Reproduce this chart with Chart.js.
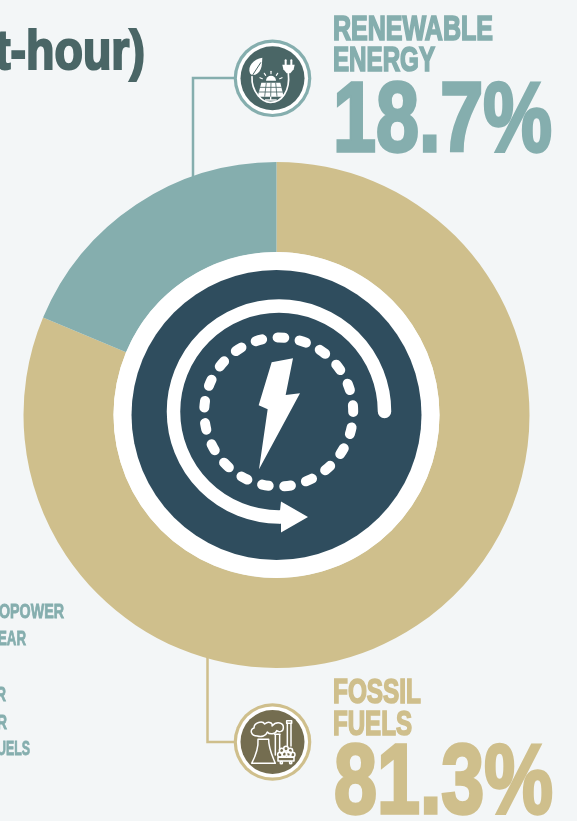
<!DOCTYPE html>
<html><head><meta charset="utf-8">
<script src="https://cdn.jsdelivr.net/npm/chart.js@4/dist/chart.umd.min.js"></script>
<style>
html,body{margin:0;padding:0;background:#F3F6F7;width:577px;height:821px;overflow:hidden}
#wrap{position:relative;width:577px;height:821px;overflow:hidden}
canvas{position:absolute;left:0;top:0}
.t{position:absolute;white-space:nowrap;line-height:1;font-family:"Liberation Sans Narrow","Liberation Sans",sans-serif;font-weight:700;transform-origin:0 0;paint-order:stroke fill}
</style></head><body>
<div id="wrap"><canvas id="c" width="577" height="821"></canvas></div>
<script>
const categories=['Fossil fuels','Renewable energy'];
const shares=[81.3,18.7];
const sliceColors=['#CFBF8C','#85AEAE'];
const textItems=[
 ['t-hour)',-5,69.5,55,150,'#4A6666',0.04],
 ['RENEWABLE',333,40,34.5,160,'#85AEAE',0.05],
 ['ENERGY',333,71.5,34.5,102,'#85AEAE',0.05],
 [shares[1]+'%',333,150.5,99,219,'#85AEAE',0.035],
 ['FOSSIL',333,703.5,34.5,88,'#CFBF8C',0.05],
 ['FUELS',333,735.5,34.5,79,'#CFBF8C',0.05],
 [shares[0]+'%',334,812.5,99,219,'#CFBF8C',0.035],
 ['OPOWER',-1,618.5,19.5,65,'#85AEAE',0.04],
 ['EAR',-2,645.5,19.5,28,'#85AEAE',0.04],
 ['R',-4,701.5,19.5,10,'#85AEAE',0.04],
 ['R',-3,729.5,19.5,10,'#85AEAE',0.04],
 ['UELS',-3,755.5,19.5,33,'#85AEAE',0.04]
];
const wrap=document.getElementById('wrap');
textItems.forEach(function(it){
  const s=document.createElement('span');s.className='t';s.textContent=it[0];
  s.style.left=it[1]+'px';s.style.top=(it[2]-0.8465*it[3])+'px';s.style.fontSize=it[3]+'px';s.style.color=it[5];
  s.style.webkitTextStroke=(it[3]*it[6])+'px '+it[5];
  wrap.appendChild(s);
  s.style.transform='scaleX('+(it[4]/s.getBoundingClientRect().width)+')';
});
function poly(c,p,fill){c.beginPath();p.forEach((q,i)=>i?c.lineTo(q[0],q[1]):c.moveTo(q[0],q[1]));c.closePath();fill?c.fill():c.stroke();}
function line(c,a,b,d,e){c.beginPath();c.moveTo(a,b);c.lineTo(d,e);c.stroke();}
function disc(c,x,y,r,col){c.fillStyle=col;c.beginPath();c.arc(x,y,r,0,Math.PI*2);c.fill();}
function centerArt(c,cx,cy,ri){
  disc(c,cx,cy,ri,'#FFFFFF');
  disc(c,cx,cy,145,'#2F4D5E');
  const ax=cx+2.5,ay=cy-3.5;
  c.strokeStyle='#FFF';c.fillStyle='#FFF';
  c.lineWidth=13.5;c.lineCap='round';
  c.beginPath();c.arc(ax,ay,105.5,0,Math.PI/2,true);c.stroke();
  c.lineCap='butt';
  poly(c,[[ax+1,ay+99],[ax+2,ay+90],[ax+29,ay+105.5],[ax+2,ay+121],[ax+2,ay+112],[ax,ay+112],[ax,ay+99]],true);
  c.lineCap='round';c.lineWidth=10;
  for(let i=0;i<21;i++){
    const a=-Math.PI/2+(i+0.1)*Math.PI*2/21;
    c.beginPath();c.arc(ax-0.3,ay+0.5,74.5,a-0.045,a+0.045);c.stroke();
  }
  const o=(x,y)=>[120+x/3,260+y/3];
  poly(c,[o(455,307),o(519,295),o(497,405),o(540,400),o(417,628),o(443,448),o(416,436)],true);
}
function ring(c,x,y,col,dark){
  disc(c,x,y,38.8,col);disc(c,x,y,35.6,'#FFFFFF');disc(c,x,y,32,dark);
}
function renewableIcon(c){
  c.save();c.translate(230,36);c.scale(1/3,1/3);
  c.strokeStyle='#FFF';c.fillStyle='#FFF';c.lineWidth=5;c.lineCap='round';c.lineJoin='round';
  c.beginPath();c.moveTo(97,65);c.bezierCurveTo(70,70,52,90,60,112);c.bezierCurveTo(65,122,85,118,92,100);c.bezierCurveTo(97,88,96,75,97,65);c.fill();
  c.beginPath();c.moveTo(92,80);c.lineTo(66,120);c.strokeStyle='#4A6666';c.lineWidth=3;c.stroke();
  c.strokeStyle='#FFF';c.lineWidth=5;
  c.beginPath();c.moveTo(66,122);c.bezierCurveTo(64,165,95,200,122,199);c.bezierCurveTo(155,199,181,165,175,112);c.stroke();
  c.lineWidth=6;line(c,167,73,167,86);line(c,184,73,184,86);
  poly(c,[[157,86],[194,86],[191,100],[181,112],[170,112],[160,100]],true);
  c.beginPath();c.arc(123,134,15,Math.PI,0);c.closePath();c.fill();
  c.lineWidth=3.5;
  [[123,106,123,113],[103,112,107,118],[143,112,139,118],[90,125,97,128],[156,125,149,128]].forEach(r=>line(c,r[0],r[1],r[2],r[3]));
  poly(c,[[94,140],[151,140],[161,182],[83,182]],true);
  c.strokeStyle='#4A6666';c.lineWidth=2.5;c.lineCap='butt';
  line(c,90,154,155,154);line(c,87,168,158,168);
  line(c,109,140,104,182);line(c,123,140,122,182);line(c,137,140,141,182);
  c.strokeStyle='#FFF';c.lineWidth=4;line(c,122,182,122,192);line(c,105,192,140,192);
  c.restore();
}
function fossilIcon(c){
  c.save();c.translate(230,700);c.scale(1/3,1/3);
  c.strokeStyle='#FFF';c.lineWidth=4.5;c.lineCap='round';c.lineJoin='round';
  c.beginPath();c.moveTo(84,118);c.lineTo(116,118);c.bezierCurveTo(115,145,128,170,136,190);c.lineTo(65,190);c.bezierCurveTo(78,165,86,145,84,118);c.stroke();
  c.beginPath();c.moveTo(82,108);c.bezierCurveTo(62,108,58,88,72,84);c.bezierCurveTo(72,66,98,62,104,72);c.bezierCurveTo(118,60,130,72,126,78);c.bezierCurveTo(140,62,162,68,160,84);c.bezierCurveTo(160,94,148,98,140,92);c.bezierCurveTo(136,104,118,104,112,96);c.bezierCurveTo(108,108,94,112,82,108);c.stroke();
  c.strokeRect(170,62,15,8);
  line(c,172,70,172,138);line(c,183,70,183,138);
  line(c,136,104,136,165);line(c,149,104,149,150);line(c,134,103,150,103);
  [[155,152],[168,146],[181,152],[150,164],[163,162],[176,162],[188,164]].forEach(p=>{c.beginPath();c.arc(p[0],p[1],7,0,Math.PI*2);c.stroke();});
  c.strokeRect(144,172,48,11);
  c.beginPath();c.arc(154,188,3.5,0,Math.PI*2);c.stroke();
  c.beginPath();c.arc(182,188,3.5,0,Math.PI*2);c.stroke();
  c.restore();
}
const decorations={
  id:'decorations',
  beforeDatasetsDraw(ch){
    const c=ch.ctx;c.save();c.lineCap='butt';c.lineJoin='miter';c.lineWidth=2.5;
    c.strokeStyle=sliceColors[1];c.beginPath();c.moveTo(240,78);c.lineTo(193,78);c.lineTo(193,180);c.stroke();
    c.strokeStyle=sliceColors[0];c.beginPath();c.moveTo(207.5,650);c.lineTo(207.5,742);c.lineTo(240,742);c.stroke();
    c.restore();
  },
  afterDatasetsDraw(ch){
    const c=ch.ctx,m=ch.getDatasetMeta(0).data[0];
    c.save();
    centerArt(c,m.x,m.y,m.innerRadius);
    ring(c,272.5,78.3,sliceColors[1],'#4A6666');renewableIcon(c);
    ring(c,272.5,742,sliceColors[0],'#746D50');fossilIcon(c);
    c.restore();
  }
};
new Chart(document.getElementById('c'),{
  type:'doughnut',
  data:{labels:categories,datasets:[{data:shares,backgroundColor:sliceColors,borderWidth:0,hoverOffset:0}]},
  options:{responsive:false,animation:false,cutout:(163/253*100)+'%',
    layout:{padding:{left:23.5,right:47.5,top:162,bottom:153}},
    plugins:{legend:{display:false},tooltip:{enabled:false},title:{display:false}}},
  plugins:[decorations]
});
</script></body></html>
